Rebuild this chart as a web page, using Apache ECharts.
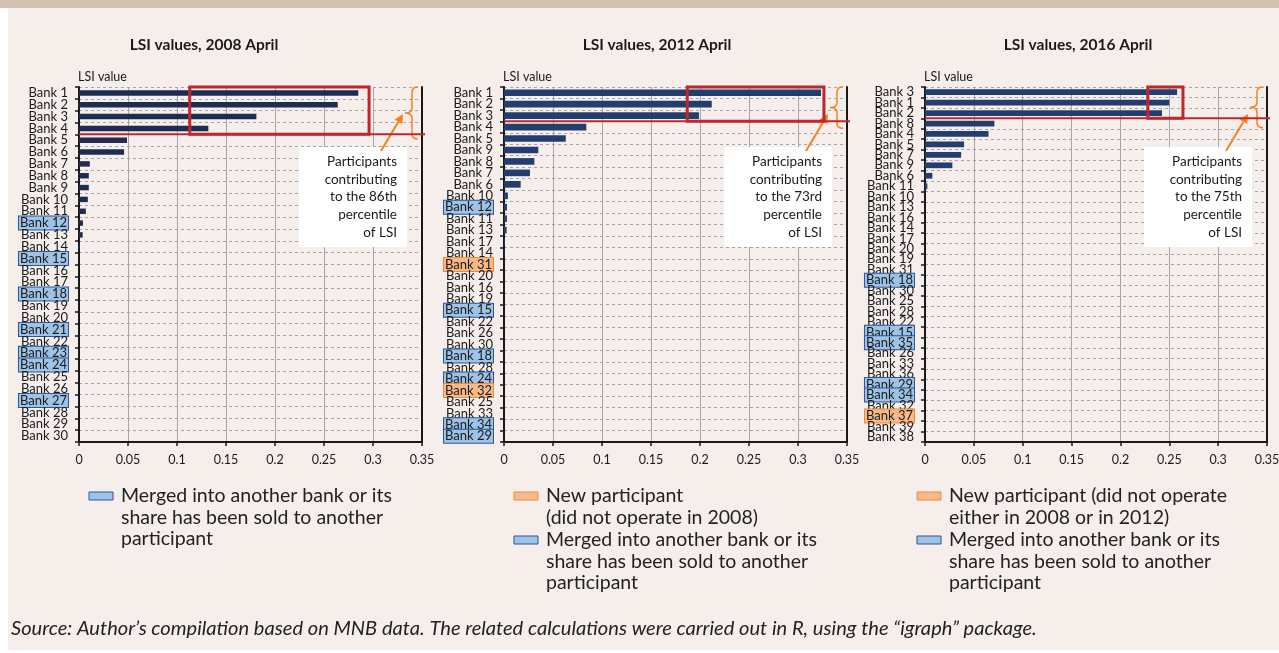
<!DOCTYPE html>
<html>
<head>
<meta charset="utf-8">
<script src="https://cdn.jsdelivr.net/npm/echarts@6/dist/echarts.min.js"></script>
<style>
  body { margin: 0; background: #ffffff; }
  #band { position: absolute; left: 0; top: 0; width: 1279px; height: 8px; background: #d5c3b2; }
  #panel { position: absolute; left: 8px; top: 8px; width: 1271px; height: 642px; background: #f5eeeb; }
  #main { position: absolute; left: 0; top: 0; width: 1279px; height: 653px; }
</style>
</head>
<body>
<div id="band"></div>
<div id="panel"></div>
<div id="main"></div>
<script>
var FONT = 'Lato, "Noto Sans", sans-serif';

var banks2008 = ['Bank 1', 'Bank 2', 'Bank 3', 'Bank 4', 'Bank 5', 'Bank 6', 'Bank 7', 'Bank 8', 'Bank 9', 'Bank 10',
  'Bank 11', 'Bank 12', 'Bank 13', 'Bank 14', 'Bank 15', 'Bank 16', 'Bank 17', 'Bank 18', 'Bank 19', 'Bank 20',
  'Bank 21', 'Bank 22', 'Bank 23', 'Bank 24', 'Bank 25', 'Bank 26', 'Bank 27', 'Bank 28', 'Bank 29', 'Bank 30'];
var lsi2008 = [0.285, 0.264, 0.181, 0.132, 0.049, 0.046, 0.011, 0.010, 0.010, 0.009,
  0.007, 0.004, 0.0037, 0.001, 0, 0, 0, 0, 0, 0,
  0, 0, 0, 0, 0, 0, 0, 0, 0, 0];
var merged2008 = ['Bank 12', 'Bank 15', 'Bank 18', 'Bank 21', 'Bank 23', 'Bank 24', 'Bank 27'];
var new2008 = [];

var banks2012 = ['Bank 1', 'Bank 2', 'Bank 3', 'Bank 4', 'Bank 5', 'Bank 9', 'Bank 8', 'Bank 7', 'Bank 6', 'Bank 10',
  'Bank 12', 'Bank 11', 'Bank 13', 'Bank 17', 'Bank 14', 'Bank 31', 'Bank 20', 'Bank 16', 'Bank 19', 'Bank 15',
  'Bank 22', 'Bank 26', 'Bank 30', 'Bank 18', 'Bank 28', 'Bank 24', 'Bank 32', 'Bank 25', 'Bank 33', 'Bank 34', 'Bank 29'];
var lsi2012 = [0.3235, 0.212, 0.199, 0.084, 0.063, 0.035, 0.031, 0.0265, 0.017, 0.004,
  0.003, 0.003, 0.0027, 0.0007, 0.0005, 0, 0, 0, 0, 0,
  0, 0, 0, 0, 0, 0, 0, 0, 0, 0, 0];
var merged2012 = ['Bank 12', 'Bank 15', 'Bank 18', 'Bank 24', 'Bank 34', 'Bank 29'];
var new2012 = ['Bank 31', 'Bank 32'];

var banks2016 = ['Bank 3', 'Bank 1', 'Bank 2', 'Bank 8', 'Bank 4', 'Bank 5', 'Bank 7', 'Bank 9', 'Bank 6', 'Bank 11',
  'Bank 10', 'Bank 13', 'Bank 16', 'Bank 14', 'Bank 17', 'Bank 20', 'Bank 19', 'Bank 31', 'Bank 18', 'Bank 30',
  'Bank 25', 'Bank 28', 'Bank 22', 'Bank 15', 'Bank 35', 'Bank 26', 'Bank 33', 'Bank 36', 'Bank 29', 'Bank 34',
  'Bank 32', 'Bank 37', 'Bank 39', 'Bank 38'];
var lsi2016 = [0.258, 0.250, 0.2425, 0.071, 0.065, 0.040, 0.037, 0.028, 0.0075, 0.0024,
  0, 0, 0, 0, 0, 0, 0, 0, 0, 0,
  0, 0, 0, 0, 0, 0, 0, 0, 0, 0,
  0, 0, 0, 0];
var merged2016 = ['Bank 18', 'Bank 15', 'Bank 35', 'Bank 29', 'Bank 34'];
var new2016 = ['Bank 37'];

var titles = ['LSI values, 2008 April', 'LSI values, 2012 April', 'LSI values, 2016 April'];
var titleCenters = [204, 657, 1078];
var percentile = ['86th', '73rd', '75th'];
// how many top banks sit above the red cut line, and the value span of the red box
var topCount = [4, 3, 3];
var boxRange = [[0.113, 0.296], [0.187, 0.3265], [0.228, 0.264]];
var braceRows = [4.4, 3.6, 3.9];

var bankLists = [banks2008, banks2012, banks2016];
var lsiLists = [lsi2008, lsi2012, lsi2016];
var mergedLists = [merged2008, merged2012, merged2016];
var newLists = [new2008, new2012, new2016];
var barColors = ['#1e2c50', '#233e6e', '#233e6e'];
var barWidths = ['46%', '58%', '55%'];

var grids = [
  {left: 79, right: 857, top: 87, bottom: 211},
  {left: 504, right: 432, top: 87, bottom: 211},
  {left: 925, right: 12, top: 87, bottom: 211}
];

var RED = '#c0272d';
var ORANGE = '#f5821f';

function labelFormatter(k) {
  return function (v) {
    if (mergedLists[k].indexOf(v) > -1) return '{m|' + v + '}';
    if (newLists[k].indexOf(v) > -1) return '{n|' + v + '}';
    return v;
  };
}

function drawNote(k) {
  return function (params, api) {
    var rowH = api.size([0, 1])[1];
    var first = api.coord([0, 0]);
    var left = first[0];
    var top = first[1] - rowH / 2;
    var right = api.coord([0.35, 0])[0];
    var cut = top + topCount[k] * rowH;
    var bx0 = api.coord([boxRange[k][0], 0])[0];
    var bx1 = api.coord([boxRange[k][1], 0])[0];
    var bb = top + braceRows[k] * rowH;
    var mid = (top + bb) / 2;
    var bx = right - 10;
    var brace = 'M' + (bx + 6) + ' ' + top + ' Q' + bx + ' ' + top + ' ' + bx + ' ' + (top + 5) +
      ' L' + bx + ' ' + (mid - 5) + ' Q' + bx + ' ' + mid + ' ' + (bx - 7) + ' ' + mid +
      ' Q' + bx + ' ' + mid + ' ' + bx + ' ' + (mid + 5) +
      ' L' + bx + ' ' + (bb - 5) + ' Q' + bx + ' ' + bb + ' ' + (bx + 6) + ' ' + bb;
    var ax0 = right - 41, ay0 = top + 64, ax1 = right - 19, ay1 = top + 27;
    var ang = Math.atan2(ay1 - ay0, ax1 - ax0);
    var c = Math.cos(ang), s = Math.sin(ang);
    var hl = 9, hw = 4.5;
    var bxh = ax1 - hl * c, byh = ay1 - hl * s;
    return {
      type: 'group',
      children: [
        {type: 'rect', shape: {x: right - 123, y: top + 60, width: 108, height: 100}, style: {fill: '#ffffff'}},
        {type: 'text', style: {
          text: 'Participants\ncontributing\nto the ' + percentile[k] + '\npercentile\nof LSI',
          x: right - 25, y: top + 66, align: 'right', verticalAlign: 'top',
          lineHeight: 17.6, fontSize: 13.5, fontFamily: FONT, fill: '#1a1a1a'}},
        {type: 'line', shape: {x1: ax0, y1: ay0, x2: bxh, y2: byh}, style: {stroke: ORANGE, lineWidth: 2}},
        {type: 'polygon', shape: {points: [[ax1, ay1], [bxh - hw * s, byh + hw * c], [bxh + hw * s, byh - hw * c]]},
          style: {fill: ORANGE}},
        {type: 'path', shape: {pathData: brace}, style: {stroke: ORANGE, lineWidth: 1.5, fill: null}},
        {type: 'line', shape: {x1: left, y1: cut, x2: right + 3, y2: cut}, style: {stroke: RED, lineWidth: 2}},
        {type: 'rect', shape: {x: bx0, y: top, width: bx1 - bx0, height: cut - top},
          style: {fill: null, stroke: RED, lineWidth: 3}}
      ]
    };
  };
}

var xAxes = [], yAxes = [], rightAxes = [], series = [], graphics = [];

for (var k = 0; k < 3; k++) {
  xAxes.push({
    type: 'value', gridIndex: k, min: 0, max: 0.35, interval: 0.05,
    axisLine: {show: true, lineStyle: {color: '#1a1a1a', width: 2}},
    axisTick: {show: true, length: 4, lineStyle: {color: '#1a1a1a', width: 1.5}},
    axisLabel: {margin: 11, fontSize: 12.5, color: '#1a1a1a', fontFamily: FONT},
    splitLine: {show: true, lineStyle: {color: '#a3a6ad', width: 1}}
  });
  yAxes.push({
    type: 'category', gridIndex: k, inverse: true, data: bankLists[k],
    axisLine: {show: true, onZero: false, lineStyle: {color: '#1a1a1a', width: 2}},
    axisTick: {show: true, length: 4, interval: 0, lineStyle: {color: '#1a1a1a', width: 1.5}},
    axisLabel: {
      interval: 0, margin: 11, fontSize: 13, color: '#1a1a1a', fontFamily: FONT,
      formatter: labelFormatter(k),
      rich: {
        m: {fontSize: 13, fontFamily: FONT, color: '#1a1a1a', backgroundColor: '#9dc3e6',
          borderColor: '#2f5597', borderWidth: 1, padding: [0, 1, 0, 1], lineHeight: 11},
        n: {fontSize: 13, fontFamily: FONT, color: '#1a1a1a', backgroundColor: '#f8b98a',
          borderColor: '#f08a3a', borderWidth: 1, padding: [0, 1, 0, 1], lineHeight: 11}
      }
    },
    splitLine: {show: true, interval: 0, lineStyle: {color: '#a6a6a6', width: 1, type: [3, 3]}}
  });
  rightAxes.push({
    type: 'category', gridIndex: k, inverse: true, position: 'right', data: bankLists[k],
    axisLine: {show: true, onZero: false, lineStyle: {color: '#1a1a1a', width: 2}},
    axisTick: {show: false}, axisLabel: {show: false}, splitLine: {show: false}
  });
  series.push({
    type: 'bar', xAxisIndex: k, yAxisIndex: k, data: lsiLists[k],
    barWidth: barWidths[k], itemStyle: {color: barColors[k]}, silent: true
  });
  series.push({
    type: 'custom', xAxisIndex: k, yAxisIndex: k, data: [[0, 0]], clip: false, silent: true, z: 5,
    renderItem: drawNote(k)
  });
  graphics.push({type: 'text', x: titleCenters[k], y: 45, style: {
    text: titles[k], align: 'center', verticalAlign: 'middle',
    font: 'bold 15.5px ' + FONT, fill: '#1a1a1a'}});
  graphics.push({type: 'text', x: grids[k].left - 1, y: 77, style: {
    text: 'LSI value', align: 'left', verticalAlign: 'middle',
    font: '12.5px ' + FONT, fill: '#1a1a1a'}});
}

var mergedText = 'Merged into another bank or its\nshare has been sold to another\nparticipant';
function legendItem(x, y, kind, text) {
  var blue = kind === 'm';
  graphics.push({type: 'rect', shape: {x: x, y: y - 4, width: 24, height: 8},
    style: {fill: blue ? '#9dc3e6' : '#f8b98a', stroke: blue ? '#2f5597' : '#f08a3a', lineWidth: 1}});
  graphics.push({type: 'text', x: x + 32, y: y - 11, style: {
    text: text, align: 'left', verticalAlign: 'top', lineHeight: 21.5,
    font: '19.5px ' + FONT, fill: '#222222'}});
}
legendItem(89, 496, 'm', mergedText);
legendItem(514, 496, 'n', 'New participant\n(did not operate in 2008)');
legendItem(514, 540, 'm', mergedText);
legendItem(917, 496, 'n', 'New participant (did not operate\neither in 2008 or in 2012)');
legendItem(917, 540, 'm', mergedText);

graphics.push({type: 'text', x: 11, y: 629, style: {
  text: 'Source: Author\u2019s compilation based on MNB data. The related calculations were carried out in R, using the \u201cigraph\u201d package.',
  align: 'left', verticalAlign: 'middle', font: 'italic 20.1px ' + FONT, fill: '#222222'}});

var chart = echarts.init(document.getElementById('main'));
chart.setOption({
  backgroundColor: 'transparent',
  animation: false,
  textStyle: {fontFamily: FONT},
  grid: grids.map(function (g) {
    return {left: g.left, right: g.right, top: g.top, bottom: g.bottom, containLabel: false, outerBoundsMode: 'none'};
  }),
  xAxis: xAxes,
  yAxis: yAxes.concat(rightAxes),
  series: series,
  graphic: graphics
});
</script>
</body>
</html>
